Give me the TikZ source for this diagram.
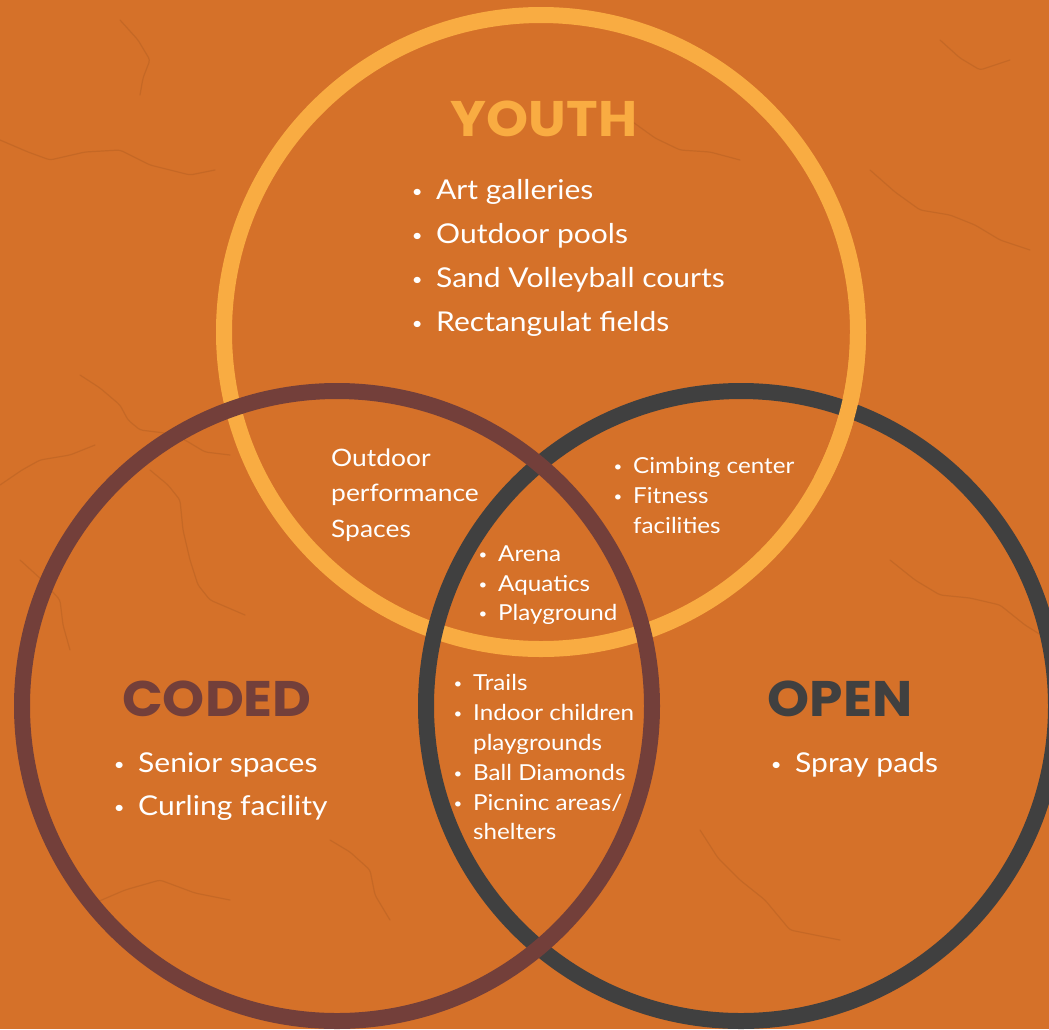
\documentclass[tikz,border=0pt]{standalone}
\usepackage{fontspec}
\setmainfont{Lato}[FakeStretch=1.1]
\newfontfamily\headfont{Poppins}[UprightFont=* Bold, FakeStretch=1.07]
\definecolor{bgorange}{RGB}{213,113,41}
\definecolor{crackc}{RGB}{150,78,28}
\definecolor{youthc}{RGB}{249,172,66}
\definecolor{codedc}{RGB}{115,63,58}
\definecolor{openc}{RGB}{64,64,64}
\begin{document}
\begin{tikzpicture}[x=1pt,y=-1pt,
  ring/.style={line width=16pt},
  crack/.style={crackc, line width=1.2pt, opacity=0.25, line join=round, line cap=round, rounded corners=3pt},
  head/.style={inner sep=0pt, anchor=base, font=\headfont\fontsize{50}{50}\selectfont},
  bigitem/.style={inner sep=0pt, anchor=base west, text=white, font=\fontsize{27.3}{27.3}\selectfont},
  smallitem/.style={inner sep=0pt, anchor=base west, text=white, font=\fontsize{22}{22}\selectfont},
  midtext/.style={inner sep=0pt, anchor=base west, text=white, font=\fontsize{24}{24}\selectfont}]
\newcommand{\bul}{\llap{\raisebox{0.06em}{\scalebox{0.62}{\textbullet}}\hspace{0.5em}}}
\useasboundingbox (0,0) rectangle (1049,1029);
\clip (0,0) rectangle (1049,1029);
\fill[bgorange] (0,0) rectangle (1049,1029);
% faint background cracks
\draw[crack] (80,375) -- (100,388) -- (120,405) -- (128,420) -- (140,430) -- (165,433) -- (185,440) -- (205,452) -- (230,455);
\draw[crack] (0,485) -- (22,470) -- (40,460) -- (70,455) -- (95,445);
\draw[crack] (150,470) -- (168,485) -- (180,500) -- (183,530) -- (190,560) -- (198,585) -- (210,600) -- (245,615);
\draw[crack] (0,140) -- (28,152) -- (50,160) -- (85,152) -- (120,150) -- (150,165) -- (190,175) -- (215,170);
\draw[crack] (120,20) -- (138,40) -- (150,60) -- (143,78) -- (140,95);
\draw[crack] (870,170) -- (895,192) -- (920,210) -- (950,215) -- (975,225) -- (1000,240) -- (1030,250);
\draw[crack] (890,560) -- (915,580) -- (940,595) -- (970,598) -- (1000,605) -- (1025,625) -- (1049,640);
\draw[crack] (90,905) -- (125,890) -- (160,880) -- (195,893) -- (230,900);
\draw[crack] (700,830) -- (718,858) -- (740,880) -- (765,900) -- (790,930) -- (840,940);
\draw[crack] (330,840) -- (350,852) -- (370,870) -- (375,895) -- (390,920);
\draw[crack] (940,40) -- (960,58) -- (980,70) -- (1010,60);
\draw[crack] (630,120) -- (655,138) -- (680,150) -- (710,152) -- (740,160);
\draw[crack] (20,560) -- (42,580) -- (60,600) -- (63,625) -- (70,650);
% centres of the three rings
\coordinate (Yc) at (541,332);
\coordinate (Cc) at (337,706);
\coordinate (Oc) at (741,706);
% rings (woven)
\draw[ring, youthc] (Yc) circle[radius=317];
\draw[ring, openc] (Oc) circle[radius=315];
\draw[ring, youthc] (Yc) ++(0:317) arc[start angle=0, end angle=28, radius=317];
\draw[ring, codedc] (Cc) circle[radius=315];
% headings
\node[head, text=youthc] (youth) at (544,136) {YOUTH};
\node[head, text=codedc] (coded) at (217,716) {CODED};
\node[head, text=openc] (open) at (840,716) {OPEN};
% youth list
\foreach \t [count=\i] in {Art galleries, Outdoor pools, Sand Volleyball courts, Rectangulat fields}
  \node[bigitem] (y\i) at (436,{199+44*(\i-1)}) {\bul\t};
% coded list
\node[bigitem] (c1) at (138,772) {\bul Senior spaces};
\node[bigitem] (c2) at (138,815) {\bul Curling facility};
% open list
\node[bigitem] (o1) at (795,772) {\bul Spray pads};
% youth & coded
\node[midtext] (yc1) at (331,466) {Outdoor};
\node[midtext] (yc2) at (331,501.5) {performance};
\node[midtext] (yc3) at (331,537) {Spaces};
% youth & open
\node[smallitem] (yo1) at (633,473) {\bul Cimbing center};
\node[smallitem] (yo2) at (633,503) {\bul Fitness};
\node[smallitem] (yo3) at (633,533) {facilities};
% all three
\node[smallitem] (a1) at (498,561) {\bul Arena};
\node[smallitem] (a2) at (498,591) {\bul Aquatics};
\node[smallitem] (a3) at (498,620) {\bul Playground};
% coded & open
\node[smallitem] (co1) at (473,690) {\bul Trails};
\node[smallitem] (co2) at (473,720) {\bul Indoor children};
\node[smallitem] (co3) at (473,750) {playgrounds};
\node[smallitem] (co4) at (473,780) {\bul Ball Diamonds};
\node[smallitem] (co5) at (473,810) {\bul Picninc areas/};
\node[smallitem] (co6) at (473,839) {shelters};
\end{tikzpicture}
\end{document}
